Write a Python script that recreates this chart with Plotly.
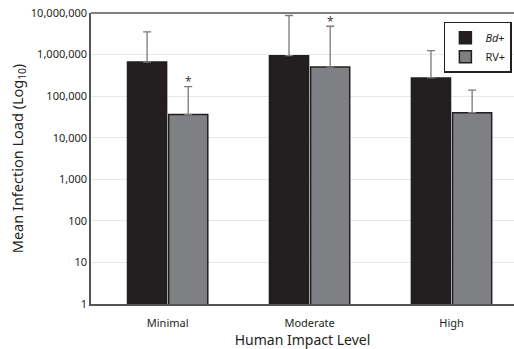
import math
import plotly.graph_objects as go

categories = ["Minimal", "Moderate", "High"]
bd_values = [660000, 940000, 275000]
bd_err_top = [3500000, 8700000, 1240000]
rv_values = [36000, 500000, 40000]
rv_err_top = [170000, 4800000, 140000]
rv_signif = [True, True, False]
y_tickvals = [1, 10, 100, 1000, 10000, 100000, 1000000, 10000000]
y_ticktext = ["1", "10", "100", "1,000", "10,000", "100,000", "1,000,000", "10,000,000"]

FONT = "Noto Sans"

fig = go.Figure()
fig.add_trace(go.Bar(
    x=categories, y=bd_values, name="<i>Bd</i>+",
    marker=dict(color="#231f20", line=dict(color="#231f20", width=1.5)),
    error_y=dict(type="data", symmetric=False,
                 array=[t - v for t, v in zip(bd_err_top, bd_values)],
                 arrayminus=[0, 0, 0], color="#7a7a7a", thickness=1.3, width=4),
))
fig.add_trace(go.Bar(
    x=categories, y=rv_values, name="RV+",
    marker=dict(color="#7f8083", line=dict(color="#231f20", width=1.5)),
    error_y=dict(type="data", symmetric=False,
                 array=[t - v for t, v in zip(rv_err_top, rv_values)],
                 arrayminus=[0, 0, 0], color="#7a7a7a", thickness=1.3, width=4),
))

for c, top, s in zip(categories, rv_err_top, rv_signif):
    if s:
        fig.add_annotation(x=c, y=math.log10(top), xref="x", yref="y", text="*",
                           showarrow=False, xshift=21, yshift=5,
                           font=dict(family=FONT, size=12, color="#444"))

fig.update_layout(
    width=514, height=349,
    margin=dict(l=91, r=0, t=13, b=45),
    paper_bgcolor="white", plot_bgcolor="white",
    barmode="group", bargap=0.42, bargroupgap=0.05,
    font=dict(family=FONT, color="#231f20"),
    showlegend=True,
    legend=dict(x=0.995, y=0.97, xanchor="right", yanchor="top",
                bordercolor="#231f20", borderwidth=1.5, bgcolor="white",
                font=dict(family=FONT, size=11, color="#231f20"),
                itemwidth=30, tracegroupgap=0),
    xaxis=dict(range=[-0.54, 2.44], showgrid=False, showline=True, linecolor="#555",
               linewidth=1.5, ticks="", tickfont=dict(family=FONT, size=11),
               ticklabelstandoff=8,
               title=dict(text="Human Impact Level", font=dict(family=FONT, size=14), standoff=4),
               mirror=False),
    yaxis=dict(type="log", range=[0, 7], tickvals=y_tickvals, ticktext=y_ticktext,
               showgrid=True, gridcolor="#e8e8e8", gridwidth=1, showline=True,
               linecolor="#555", linewidth=1.5, ticks="", zeroline=False,
               tickfont=dict(family=FONT, size=11),
               title=dict(text="Mean Infection Load (Log<sub>10</sub>)",
                          font=dict(family=FONT, size=14.5), standoff=4)),
)
fig.add_shape(type="line", xref="paper", yref="paper", x0=0, x1=1, y0=1, y1=1,
              line=dict(color="#555", width=1.5))

fig.write_html("out.html")
